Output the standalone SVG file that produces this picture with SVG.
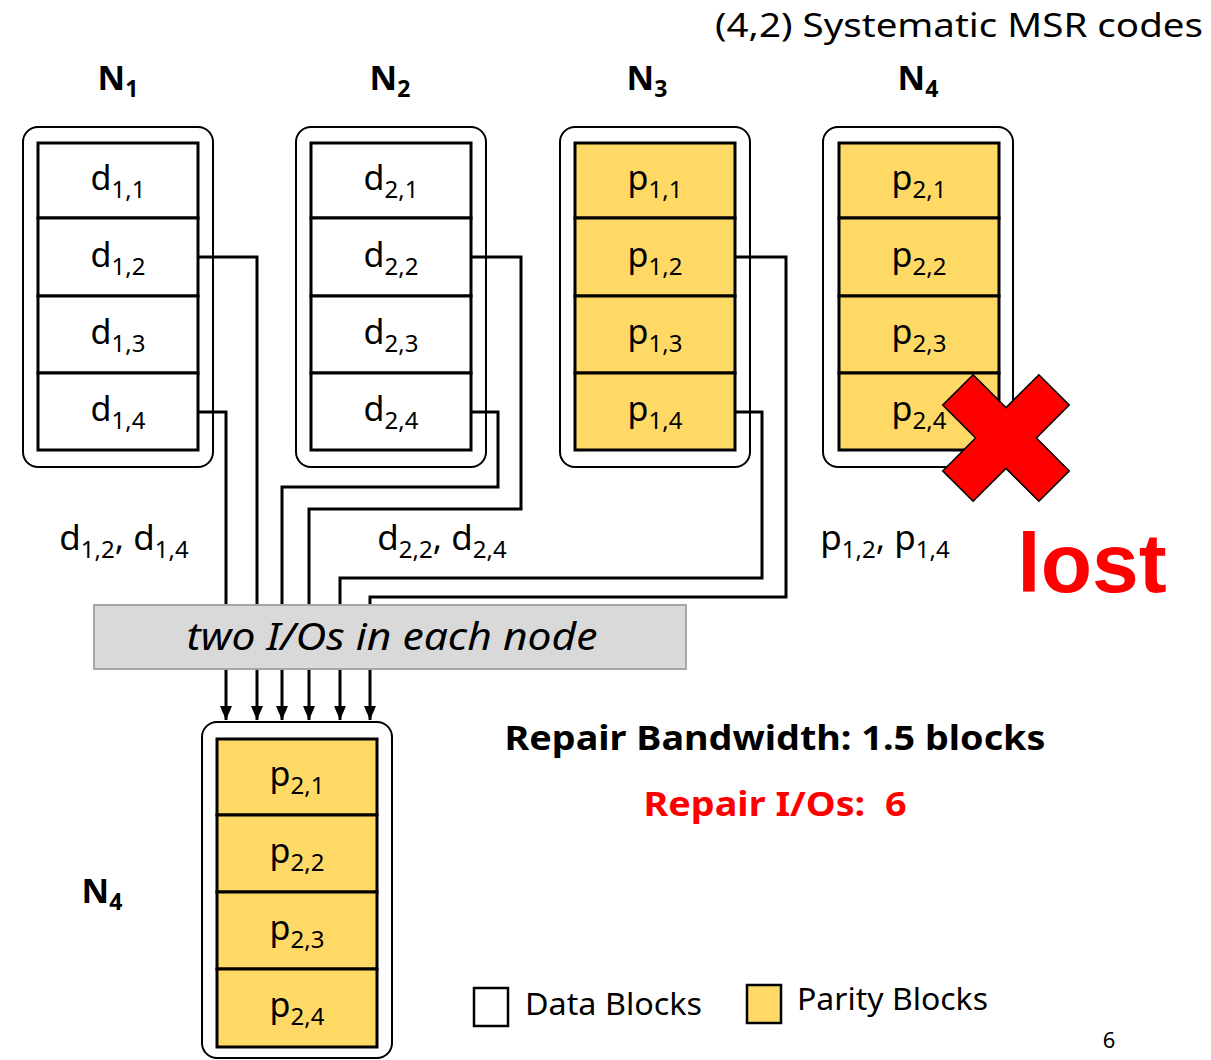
<svg xmlns="http://www.w3.org/2000/svg" width="1211" height="1060" viewBox="0 0 1211 1060">
<style>
text{font-family:"Noto Sans","Open Sans","DejaVu Sans",sans-serif;fill:#000}
.outer{fill:#fff;stroke:#000;stroke-width:2}
.blk{fill:#fff;stroke:#000;stroke-width:3}
.par{fill:#FFD966;stroke:#000;stroke-width:3}
.lbl{font-size:34px;text-anchor:middle}
.nl{font-size:34px;font-weight:bold;text-anchor:middle}
.conn{fill:none;stroke:#000;stroke-width:3}
.sub{font-size:24px}
.nsub{font-size:23px}
</style>
<defs>
<marker id="arr" markerUnits="userSpaceOnUse" viewBox="0 0 14 12" markerWidth="14" markerHeight="12" refX="14" refY="6" orient="auto">
<path d="M0,0 L14,6 L0,12 z" fill="#000"/>
</marker>
</defs>

<text x="1203" y="37" font-size="33" text-anchor="end" textLength="488" lengthAdjust="spacingAndGlyphs">(4,2) Systematic MSR codes</text>

<g id="n1">
<text class="nl" x="118" y="90">N<tspan class="nsub" dy="7">1</tspan></text>
<rect class="outer" x="23" y="127" width="190" height="340" rx="15"/>
<rect class="blk" x="38" y="143" width="160" height="75"/>
<rect class="blk" x="38" y="218" width="160" height="78"/>
<rect class="blk" x="38" y="296" width="160" height="77"/>
<rect class="blk" x="38" y="373" width="160" height="77"/>
<text class="lbl" x="118" y="190">d<tspan class="sub" dy="8">1,1</tspan></text>
<text class="lbl" x="118" y="267">d<tspan class="sub" dy="8">1,2</tspan></text>
<text class="lbl" x="118" y="344">d<tspan class="sub" dy="8">1,3</tspan></text>
<text class="lbl" x="118" y="421">d<tspan class="sub" dy="8">1,4</tspan></text>
</g>

<g id="n2">
<text class="nl" x="390" y="90">N<tspan class="nsub" dy="7">2</tspan></text>
<rect class="outer" x="296" y="127" width="190" height="340" rx="15"/>
<rect class="blk" x="311" y="143" width="160" height="75"/>
<rect class="blk" x="311" y="218" width="160" height="78"/>
<rect class="blk" x="311" y="296" width="160" height="77"/>
<rect class="blk" x="311" y="373" width="160" height="77"/>
<text class="lbl" x="391" y="190">d<tspan class="sub" dy="8">2,1</tspan></text>
<text class="lbl" x="391" y="267">d<tspan class="sub" dy="8">2,2</tspan></text>
<text class="lbl" x="391" y="344">d<tspan class="sub" dy="8">2,3</tspan></text>
<text class="lbl" x="391" y="421">d<tspan class="sub" dy="8">2,4</tspan></text>
</g>

<g id="n3">
<text class="nl" x="647" y="90">N<tspan class="nsub" dy="7">3</tspan></text>
<rect class="outer" x="560" y="127" width="190" height="340" rx="15"/>
<rect class="par" x="575" y="143" width="160" height="75"/>
<rect class="par" x="575" y="218" width="160" height="78"/>
<rect class="par" x="575" y="296" width="160" height="77"/>
<rect class="par" x="575" y="373" width="160" height="77"/>
<text class="lbl" x="655" y="190">p<tspan class="sub" dy="8">1,1</tspan></text>
<text class="lbl" x="655" y="267">p<tspan class="sub" dy="8">1,2</tspan></text>
<text class="lbl" x="655" y="344">p<tspan class="sub" dy="8">1,3</tspan></text>
<text class="lbl" x="655" y="421">p<tspan class="sub" dy="8">1,4</tspan></text>
</g>

<g id="n4">
<text class="nl" x="918" y="90">N<tspan class="nsub" dy="7">4</tspan></text>
<rect class="outer" x="823" y="127" width="190" height="340" rx="15"/>
<rect class="par" x="839" y="143" width="160" height="75"/>
<rect class="par" x="839" y="218" width="160" height="78"/>
<rect class="par" x="839" y="296" width="160" height="77"/>
<rect class="par" x="839" y="373" width="160" height="77"/>
<text class="lbl" x="919" y="190">p<tspan class="sub" dy="8">2,1</tspan></text>
<text class="lbl" x="919" y="267">p<tspan class="sub" dy="8">2,2</tspan></text>
<text class="lbl" x="919" y="344">p<tspan class="sub" dy="8">2,3</tspan></text>
<text class="lbl" x="919" y="421">p<tspan class="sub" dy="8">2,4</tspan></text>
</g>

<g id="cross">
<polygon transform="translate(1006,438) rotate(45)" points="-21.5,-68 21.5,-68 21.5,-21.5 68,-21.5 68,21.5 21.5,21.5 21.5,68 -21.5,68 -21.5,21.5 -68,21.5 -68,-21.5 -21.5,-21.5" fill="#FF0000" stroke="#000" stroke-width="1.5"/>
</g>
<text x="1092" y="592" font-size="84" font-weight="bold" text-anchor="middle" style="font-family:'Liberation Sans',Arial,sans-serif;fill:#FF0000">lost</text>

<g id="labels">
<text x="124" y="550" font-size="35" text-anchor="middle">d<tspan class="sub" dy="8">1,2</tspan><tspan dy="-8">, d</tspan><tspan class="sub" dy="8">1,4</tspan></text>
<text x="442" y="550" font-size="35" text-anchor="middle">d<tspan class="sub" dy="8">2,2</tspan><tspan dy="-8">, d</tspan><tspan class="sub" dy="8">2,4</tspan></text>
<text x="885" y="550" font-size="35" text-anchor="middle">p<tspan class="sub" dy="8">1,2</tspan><tspan dy="-8">, p</tspan><tspan class="sub" dy="8">1,4</tspan></text>
</g>

<g id="connectors">
<path class="conn" d="M198,257 H257 V720" marker-end="url(#arr)"/>
<path class="conn" d="M198,412 H226 V720" marker-end="url(#arr)"/>
<path class="conn" d="M471,257 H521 V509 H309 V720" marker-end="url(#arr)"/>
<path class="conn" d="M471,412 H498 V487 H282 V720" marker-end="url(#arr)"/>
<path class="conn" d="M735,257 H786 V597 H370 V720" marker-end="url(#arr)"/>
<path class="conn" d="M735,412 H762 V578 H340 V720" marker-end="url(#arr)"/>
</g>

<g id="io-box">
<rect x="94" y="605" width="592" height="64" fill="#D9D9D9" stroke="#A6A6A6" stroke-width="2"/>
<text x="392" y="650" font-size="38" font-style="italic" text-anchor="middle" textLength="411" lengthAdjust="spacingAndGlyphs">two I/Os in each node</text>
</g>

<g id="n4-new">
<text class="nl" x="102" y="903">N<tspan class="nsub" dy="7">4</tspan></text>
<rect class="outer" x="202" y="722" width="190" height="336" rx="15"/>
<rect class="par" x="217" y="739" width="160" height="76"/>
<rect class="par" x="217" y="815" width="160" height="77"/>
<rect class="par" x="217" y="892" width="160" height="77"/>
<rect class="par" x="217" y="969" width="160" height="78"/>
<text class="lbl" x="297" y="786">p<tspan class="sub" dy="8">2,1</tspan></text>
<text class="lbl" x="297" y="863">p<tspan class="sub" dy="8">2,2</tspan></text>
<text class="lbl" x="297" y="940">p<tspan class="sub" dy="8">2,3</tspan></text>
<text class="lbl" x="297" y="1017">p<tspan class="sub" dy="8">2,4</tspan></text>
</g>

<g id="stats">
<text x="775" y="750" font-size="34" font-weight="bold" text-anchor="middle" textLength="541" lengthAdjust="spacingAndGlyphs">Repair Bandwidth: 1.5 blocks</text>
<text x="775" y="816" font-size="34" font-weight="bold" text-anchor="middle" textLength="263" lengthAdjust="spacingAndGlyphs" style="fill:#FF0000">Repair I/Os:&#160; 6</text>
</g>

<g id="legend">
<rect x="474" y="988" width="34" height="38" fill="#fff" stroke="#000" stroke-width="2.5"/>
<text x="525" y="1015" font-size="30" textLength="177" lengthAdjust="spacingAndGlyphs">Data Blocks</text>
<rect x="747" y="985" width="34" height="38" fill="#FFD966" stroke="#000" stroke-width="2.5"/>
<text x="797" y="1010" font-size="30" textLength="191" lengthAdjust="spacingAndGlyphs">Parity Blocks</text>
</g>

<text x="1109" y="1048" font-size="22" text-anchor="middle">6</text>
</svg>
